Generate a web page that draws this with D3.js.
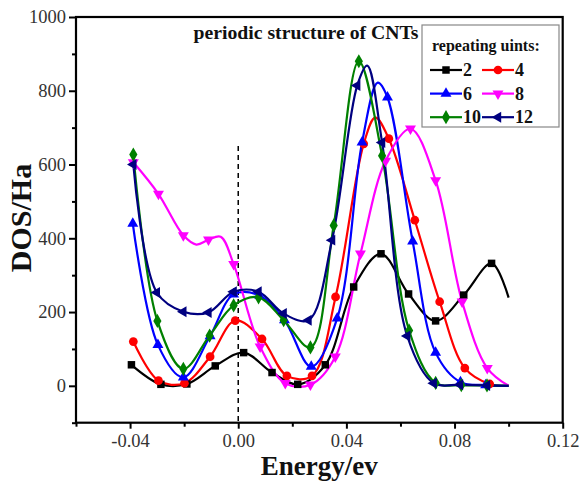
<!DOCTYPE html>
<html><head><meta charset="utf-8">
<script src="https://cdn.jsdelivr.net/npm/d3@7"></script>
<style>
html,body{margin:0;padding:0;background:#fff;}
svg{display:block;}
</style></head>
<body>
<svg id="chart" width="582" height="486"></svg>
<script>
// ---- data ----
const seriesNames = ["2", "4", "6", "8", "10", "12"];
// each point: [energy, DOS, marker shown (1) or curve-only (0)]
const s2 = [[-0.0395,57,1],[-0.0286,4,1],[-0.019,5,1],[-0.0085,54,1],[0.002,90,1],[0.0125,36,1],[0.022,4,1],[0.0322,57,1],[0.0427,268,1],[0.0528,358,1],[0.063,249,1],[0.073,176,1],[0.0834,246,1],[0.0937,332,1],[0.1,239,0]];
const s4 = [[-0.0388,120,1],[-0.0295,14,1],[-0.0199,7,1],[-0.0104,79,1],[-0.0011,177,1],[0.0088,127,1],[0.018,27,1],[0.0273,27,1],[0.036,241,1],[0.0464,656,1],[0.0507,727,0],[0.0557,670,1],[0.0653,449,1],[0.0745,228,1],[0.0838,48,1],[0.093,5,1],[0.1,0,0]];
const s6 = [[-0.039,440,1],[-0.0297,111,1],[-0.0203,23,1],[-0.0104,135,1],[-0.0017,248,1],[0.0078,245,1],[0.0171,178,1],[0.027,52,1],[0.0366,183,1],[0.0458,660,1],[0.0516,822,0],[0.0552,782,1],[0.0645,392,1],[0.073,90,1],[0.0822,10,1],[0.0915,2,1],[0.1,0,0]];
const s8 = [[-0.0388,606,1],[-0.0295,520,1],[-0.0203,408,1],[-0.0155,383,0],[-0.011,396,1],[-0.0065,404,0],[-0.0017,330,1],[0.0081,106,1],[0.0174,7,1],[0.0267,3,1],[0.0359,79,1],[0.0452,358,1],[0.0545,610,1],[0.0637,697,1],[0.073,557,1],[0.0828,228,1],[0.0921,48,1],[0.1,0,0]];
const s10 = [[-0.0388,627,1],[-0.0299,176,1],[-0.0203,46,1],[-0.0106,136,1],[-0.0017,218,1],[0.0075,240,1],[0.0168,178,1],[0.0267,104,1],[0.0353,435,1],[0.0446,880,1],[0.0532,624,1],[0.0632,150,1],[0.073,8,1],[0.0825,2,1],[0.092,1,1],[0.1,0,0]];
const s12 = [[-0.0388,600,1],[-0.0301,253,1],[-0.0203,201,1],[-0.011,199,1],[-0.0017,255,1],[0.0075,255,1],[0.0168,196,1],[0.026,178,1],[0.0347,395,1],[0.044,814,1],[0.0477,868,0],[0.0532,660,1],[0.0625,135,1],[0.0723,7,1],[0.082,3,1],[0.092,1,1],[0.1,0,0]];
const xTickValues = [-0.04, 0.00, 0.04, 0.08, 0.12];
const xTickLabels = ["-0.04", "0.00", "0.04", "0.08", "0.12"];
const xMinorValues = [-0.06, -0.02, 0.02, 0.06, 0.10];
const yTickValues = [0, 200, 400, 600, 800, 1000];
const yTickLabels = ["0", "200", "400", "600", "800", "1000"];
const yMinorValues = [-100, 100, 300, 500, 700, 900];
const titleText = "periodic structure of CNTs";
const legendTitle = "repeating uints:";
const xLabel = "Energy/ev";
const yLabel = "DOS/Ha";

// ---- styling ----
const allSeries = [s2, s4, s6, s8, s10, s12];
const colors = ["#000000", "#ff0000", "#0000ff", "#ff00ff", "#008000", "#000080"];
const symbols = [
  {t: d3.symbolSquare, s: 56, r: 0},
  {t: d3.symbolCircle, s: 60, r: 0},
  {t: d3.symbolTriangle, s: 52, r: 0},
  {t: d3.symbolTriangle, s: 52, r: 180},
  {t: d3.symbolDiamond, s: 58, r: 0},
  {t: d3.symbolTriangle, s: 52, r: -90}
];
const serif = "'Liberation Serif','Times New Roman',serif";

const svg = d3.select("#chart");
const L = 76, R = 562.7, T = 17, B = 422.7;
const x = d3.scaleLinear().domain([-0.06, 0.12]).range([L, R]);
const y = d3.scaleLinear().domain([-100, 1000]).range([B, T]);

// axes
const xAxis = d3.axisBottom(x).tickValues(xTickValues)
  .tickFormat((d, i) => xTickLabels[i]).tickSize(6).tickSizeOuter(0).tickPadding(5);
const gx = svg.append("g").attr("transform", `translate(0,${B})`).call(xAxis);
const xMinor = d3.axisBottom(x).tickValues(xMinorValues).tickFormat("").tickSize(4).tickSizeOuter(0);
const gxm = svg.append("g").attr("transform", `translate(0,${B})`).call(xMinor);

const yAxis = d3.axisLeft(y).tickValues(yTickValues)
  .tickFormat((d, i) => yTickLabels[i]).tickSize(7).tickSizeOuter(0).tickPadding(3);
const gy = svg.append("g").attr("transform", `translate(${L},0)`).call(yAxis);
const yMinor = d3.axisLeft(y).tickValues(yMinorValues).tickFormat("").tickSize(4).tickSizeOuter(0);
const gym = svg.append("g").attr("transform", `translate(${L},0)`).call(yMinor);

[gx, gxm, gy, gym].forEach(g => {
  g.select(".domain").remove();
  g.selectAll(".tick line").attr("stroke", "#000").attr("stroke-width", 2);
  g.selectAll(".tick text").attr("font-family", serif).attr("font-size", 18.5).attr("fill", "#333");
});

// frame
svg.append("rect").attr("x", L).attr("y", T).attr("width", R - L).attr("height", B - T)
  .attr("fill", "none").attr("stroke", "#000").attr("stroke-width", 2.2);

// dashed zero line
svg.append("line").attr("x1", x(0)).attr("x2", x(0)).attr("y1", y(650)).attr("y2", B)
  .attr("stroke", "#000").attr("stroke-width", 1.5).attr("stroke-dasharray", "5,4");

// curves
const line = d3.line().x(d => x(d[0])).y(d => y(d[1])).curve(d3.curveCatmullRom.alpha(0.5));
const plot = svg.append("g");
allSeries.forEach((s, i) => {
  plot.append("path").attr("d", line(s)).attr("fill", "none")
    .attr("stroke", colors[i]).attr("stroke-width", 2.2);
});
allSeries.forEach((s, i) => {
  const sym = d3.symbol().type(symbols[i].t).size(symbols[i].s);
  plot.selectAll(null).data(s.filter(d => d[2] === 1)).enter().append("path")
    .attr("d", sym)
    .attr("transform", d => `translate(${x(d[0])},${y(d[1])}) rotate(${symbols[i].r})`)
    .attr("fill", colors[i]);
});

// title
svg.append("text").attr("x", 193.5).attr("y", 39).text(titleText)
  .attr("textLength", 225).attr("lengthAdjust", "spacingAndGlyphs")
  .attr("font-family", serif).attr("font-weight", "bold").attr("font-size", 19).attr("fill", "#111");

// legend
const lg = svg.append("g");
lg.append("rect").attr("x", 422).attr("y", 25).attr("width", 137).attr("height", 102)
  .attr("fill", "#fff").attr("stroke", "#888").attr("stroke-width", 1.2);
lg.append("text").attr("x", 432).attr("y", 51).text(legendTitle)
  .attr("font-family", serif).attr("font-weight", "bold").attr("font-size", 16).attr("fill", "#111");
seriesNames.forEach((n, i) => {
  const col = i % 2, row = Math.floor(i / 2);
  const lx = col === 0 ? 430 : 482, ly = 70 + row * 23.6;
  lg.append("line").attr("x1", lx).attr("x2", lx + 32).attr("y1", ly).attr("y2", ly)
    .attr("stroke", colors[i]).attr("stroke-width", 2.2);
  lg.append("path").attr("d", d3.symbol().type(symbols[i].t).size(symbols[i].s)())
    .attr("transform", `translate(${lx + 16},${ly}) rotate(${symbols[i].r})`).attr("fill", colors[i]);
  lg.append("text").attr("x", lx + 33).attr("y", ly + 6).text(n)
    .attr("font-family", serif).attr("font-weight", "bold").attr("font-size", 18).attr("fill", "#111");
});

// axis labels
svg.append("text").attr("x", (L + R) / 2 + 0).attr("y", 475).attr("text-anchor", "middle").text(xLabel)
  .attr("font-family", serif).attr("font-weight", "bold").attr("font-size", 27).attr("fill", "#111");
svg.append("text").attr("transform", `translate(31,218) rotate(-90)`).attr("text-anchor", "middle").text(yLabel)
  .attr("font-family", serif).attr("font-weight", "bold").attr("font-size", 30).attr("fill", "#111");
</script>
</body></html>
